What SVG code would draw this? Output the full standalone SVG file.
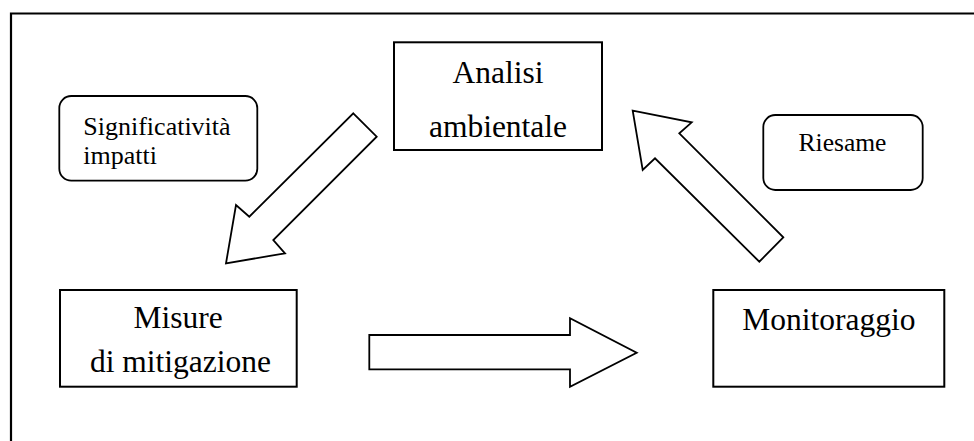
<svg xmlns="http://www.w3.org/2000/svg" width="974" height="441" viewBox="0 0 974 441">
  <style>
    .box { fill: #ffffff; stroke: #000000; stroke-width: 2; }
    .note { fill: #ffffff; stroke: #000000; stroke-width: 1.8; }
    .arrow { fill: #ffffff; stroke: #000000; stroke-width: 1.8; stroke-linejoin: miter; }
    text { font-family: 'Liberation Serif', 'Times New Roman', serif; fill: #000000; }
    .big { font-size: 31.5px; text-anchor: middle; }
    .small { font-size: 26px; }
  </style>
  <rect width="974" height="441" fill="#ffffff"/>
  <!-- page frame -->
  <path d="M11,441 V13.5 H974" fill="none" stroke="#000000" stroke-width="2.2"/>

  <g id="connectors">
    <!-- Analisi -> Misure -->
    <polygon class="arrow" points="353.3,113.3 376.7,136.7 273.3,240 285,253.3 226,263.3 236,205 249.3,216.7"/>
    <!-- Misure -> Monitoraggio -->
    <polygon class="arrow" points="369.3,335 570,335 570,318.3 636.7,352.7 570,386.7 570,369.3 369.3,369.3"/>
    <!-- Monitoraggio -> Analisi -->
    <polygon class="arrow" points="783.3,237.3 759.3,261.7 655,158.3 642.7,170 632.7,110.7 691.7,122.3 679.3,133.3"/>
  </g>

  <g id="analisi">
    <rect class="box" x="394" y="42.3" width="208" height="107.7"/>
    <text class="big" x="498" y="82.7">Analisi</text>
    <text class="big" x="498" y="136.7">ambientale</text>
  </g>

  <g id="significativita">
    <rect class="note" x="59.3" y="96" width="198" height="84.7" rx="12"/>
    <text class="small" x="83.3" y="135">Significatività</text>
    <text class="small" x="83.3" y="164">impatti</text>
  </g>

  <g id="riesame">
    <rect class="note" x="763.3" y="115" width="159.4" height="75" rx="12"/>
    <text x="842.5" y="150.7" text-anchor="middle" font-size="25.5">Riesame</text>
  </g>

  <g id="misure">
    <rect class="box" x="60" y="290" width="236.7" height="96.7"/>
    <text class="big" x="178" y="328.3">Misure</text>
    <text class="big" x="180.5" y="371.7">di mitigazione</text>
  </g>

  <g id="monitoraggio">
    <rect class="box" x="713.3" y="290" width="231" height="96.7"/>
    <text class="big" x="828.8" y="330">Monitoraggio</text>
  </g>
</svg>
